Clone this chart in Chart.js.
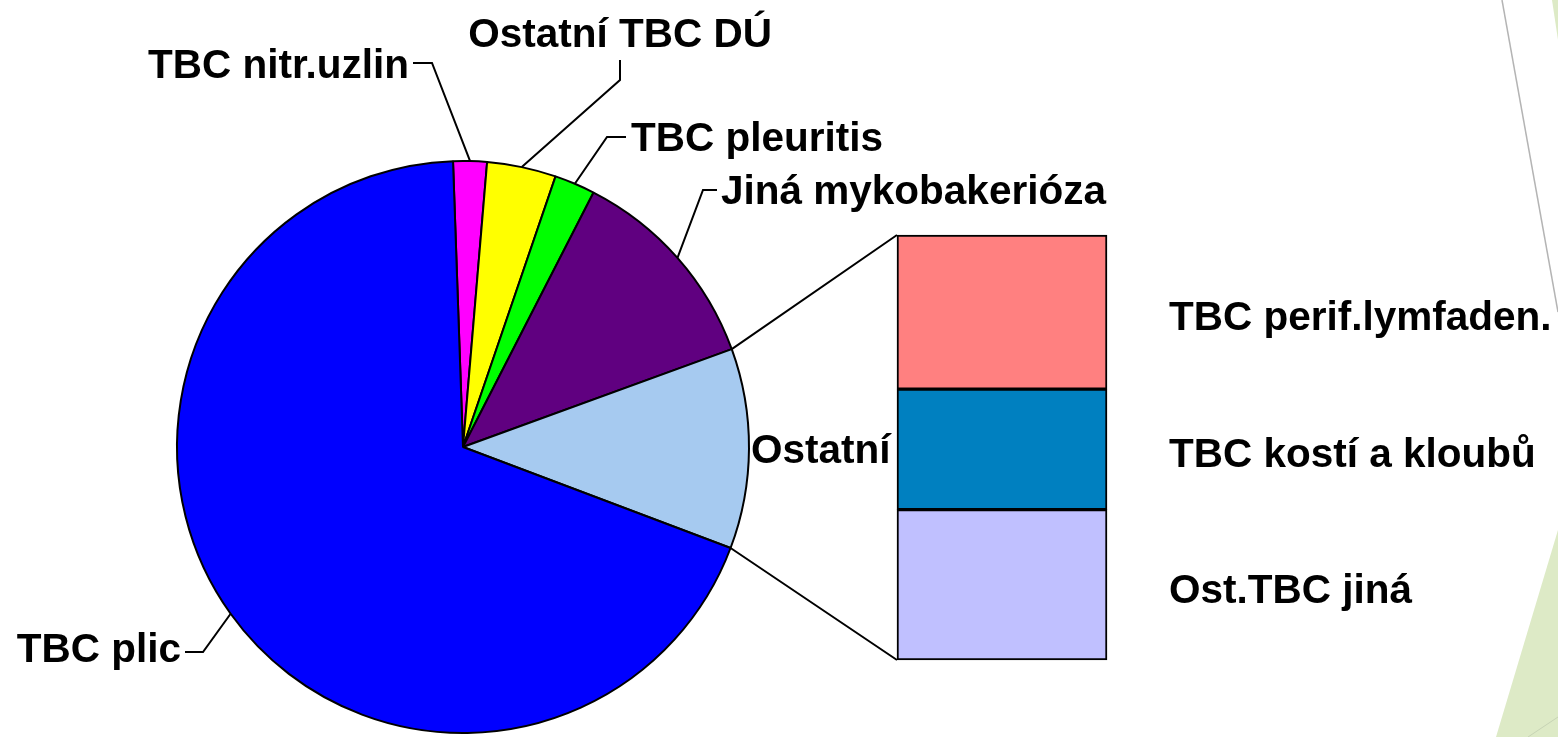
<!DOCTYPE html>
<html lang="cs">
<head>
<meta charset="utf-8">
<title>TBC - struktura onemocnění</title>
<script src="https://cdn.jsdelivr.net/npm/chart.js@4.4.1/dist/chart.umd.min.js"></script>
<style>
  html, body { margin: 0; padding: 0; background: #fff; }
  #wrap { position: relative; width: 1558px; height: 737px; overflow: hidden; }
  canvas { position: absolute; left: 0; top: 0; }
</style>
</head>
<body>
<div id="wrap">
  <canvas id="pieChart" width="1558" height="737"></canvas>
  <canvas id="barChart" width="1558" height="737"></canvas>
</div>
<script>
// hodnoty (% všech případů)
const barLabels = ['TBC perif.lymfaden.', 'TBC kostí a kloubů', 'Ost.TBC jiná'];
const barValues = [4.1, 3.2, 4.0];
const barColors = ['#FF8080', '#0080C0', '#C0C0FF'];

const otherTotal = barValues.reduce((a, b) => a + b, 0); // "Ostatní" = součet sloupce

const pieLabels = ['TBC nitr.uzlin', 'Ostatní TBC DÚ', 'TBC pleuritis', 'Jiná mykobakerióza', 'Ostatní', 'TBC plic'];
const pieValues = [1.9, 3.9, 2.3, 11.9, otherTotal, 68.7];
const pieColors = ['#FF00FF', '#FFFF00', '#00FF00', '#600080', '#A6CAF0', '#0000FF'];

const FONT = 'bold 40.5px "Liberation Sans", Arial, sans-serif';

// kde stojí popisky koláče a kde se lomí vodicí čára
const pieLabelPos = [
  { x: 409, y: 78, align: 'right', bend: [432, 63], end: [413, 63] },
  { x: 620, y: 47, align: 'center', bend: [620, 80], end: [620, 60] },
  { x: 631, y: 151, align: 'left', bend: [607, 137], end: [626, 137] },
  { x: 721, y: 204, align: 'left', bend: [703, 190], end: [717, 190] },
  { x: 751, y: 463, align: 'left' }, // Ostatní - bez čáry
  { x: 181, y: 662, align: 'right', bend: [203, 652], end: [185, 652] }
];

// pozadí snímku (zelené trojúhelníky a šedá čára vpravo)
const slideBackground = {
  id: 'slideBackground',
  beforeDraw(chart) {
    const c = chart.ctx;
    c.save();
    c.fillStyle = '#DDEAC6';
    c.beginPath();
    c.moveTo(1552, 0); c.lineTo(1558, 0); c.lineTo(1558, 40);
    c.closePath(); c.fill();
    c.beginPath();
    c.moveTo(1558, 530); c.lineTo(1558, 737); c.lineTo(1496, 737);
    c.closePath(); c.fill();
    c.strokeStyle = '#B4B4B4';
    c.lineWidth = 1.5;
    c.beginPath(); c.moveTo(1502, 0); c.lineTo(1558, 312); c.stroke();
    c.strokeStyle = '#C6D3B4';
    c.lineWidth = 1;
    c.beginPath(); c.moveTo(1528, 737); c.lineTo(1558, 717); c.stroke();
    c.restore();
  }
};

// popisky koláče s vodicími čarami
const pieLabelsPlugin = {
  id: 'pieLabels',
  afterDraw(chart) {
    const c = chart.ctx;
    const arcs = chart.getDatasetMeta(0).data;
    c.save();
    c.font = FONT;
    c.fillStyle = '#000';
    c.strokeStyle = '#000';
    c.lineWidth = 2;
    arcs.forEach((arc, i) => {
      const pos = pieLabelPos[i];
      if (pos.bend) {
        const p = arc.getProps(['x', 'y', 'startAngle', 'endAngle', 'outerRadius'], true);
        const mid = (p.startAngle + p.endAngle) / 2;
        c.beginPath();
        c.moveTo(p.x + Math.cos(mid) * p.outerRadius, p.y + Math.sin(mid) * p.outerRadius);
        c.lineTo(pos.bend[0], pos.bend[1]);
        c.lineTo(pos.end[0], pos.end[1]);
        c.stroke();
      }
      c.textAlign = pos.align;
      c.textBaseline = 'alphabetic';
      c.fillText(pieLabels[i], pos.x, pos.y);
    });
    c.restore();
  }
};

const pieChart = new Chart(document.getElementById('pieChart'), {
  type: 'pie',
  data: {
    labels: pieLabels,
    datasets: [{
      data: pieValues,
      backgroundColor: pieColors,
      borderColor: '#000',
      borderWidth: 2,
      radius: 286
    }]
  },
  options: {
    responsive: false,
    animation: false,
    rotation: -2,
    layout: { padding: { left: 163, right: 795, top: 157, bottom: 0 } },
    plugins: { legend: { display: false }, tooltip: { enabled: false } }
  },
  plugins: [slideBackground, pieLabelsPlugin]
});

// spojnice od výseče "Ostatní" ke sloupci a popisky sloupce
const barExtras = {
  id: 'barExtras',
  afterDraw(chart) {
    const c = chart.ctx;
    const other = pieChart.getDatasetMeta(0).data[4]
      .getProps(['x', 'y', 'startAngle', 'endAngle', 'outerRadius'], true);
    let top = Infinity, bottom = -Infinity, left = Infinity, right = -Infinity;
    const segs = [];
    chart.data.datasets.forEach((ds, i) => {
      const el = chart.getDatasetMeta(i).data[0];
      const p = el.getProps(['x', 'y', 'base', 'width'], true);
      const t = Math.min(p.y, p.base), b = Math.max(p.y, p.base);
      top = Math.min(top, t); bottom = Math.max(bottom, b);
      left = Math.min(left, p.x - p.width / 2); right = Math.max(right, p.x + p.width / 2);
      segs.push((t + b) / 2);
    });
    c.save();
    c.strokeStyle = '#000';
    c.lineWidth = 2;
    c.beginPath();
    c.moveTo(other.x + Math.cos(other.startAngle) * other.outerRadius,
             other.y + Math.sin(other.startAngle) * other.outerRadius);
    c.lineTo(left, top);
    c.moveTo(other.x + Math.cos(other.endAngle) * other.outerRadius,
             other.y + Math.sin(other.endAngle) * other.outerRadius);
    c.lineTo(left, bottom);
    c.stroke();
    c.font = FONT;
    c.fillStyle = '#000';
    c.textAlign = 'left';
    c.textBaseline = 'alphabetic';
    segs.forEach((cy, i) => c.fillText(barLabels[i], right + 62, cy + 18));
    c.restore();
  }
};

new Chart(document.getElementById('barChart'), {
  type: 'bar',
  data: {
    labels: ['Ostatní'],
    datasets: barValues.map((v, i) => ({
      label: barLabels[i],
      data: [v],
      backgroundColor: barColors[i],
      borderColor: '#000',
      borderWidth: 2,
      borderSkipped: false,
      barPercentage: 1,
      categoryPercentage: 1,
      clip: false
    }))
  },
  options: {
    responsive: false,
    animation: false,
    layout: { padding: { left: 897, right: 451, top: 235, bottom: 77 } },
    scales: {
      x: { display: false, stacked: true },
      y: { display: false, stacked: true, reverse: true, min: 0, max: otherTotal }
    },
    plugins: { legend: { display: false }, tooltip: { enabled: false } }
  },
  plugins: [barExtras]
});
</script>
</body>
</html>
